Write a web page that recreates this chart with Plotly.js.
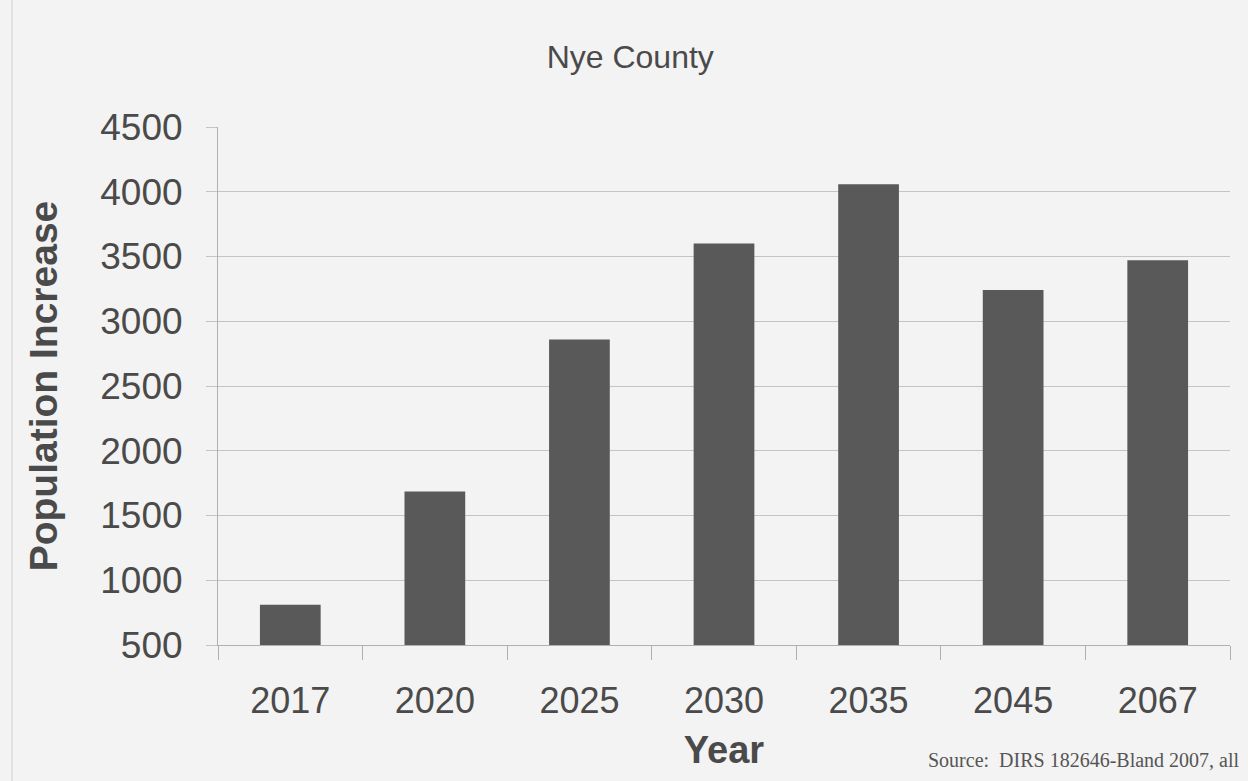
<!DOCTYPE html>
<html>
<head>
<meta charset="utf-8">
<script src="https://cdn.plot.ly/plotly-3.0.1.min.js"></script>
<style>html,body{margin:0;padding:0;background:#f3f3f3;}#chart{width:1248px;height:781px;}</style>
</head>
<body>
<div id="chart"></div>
<script>
var years = ["2017", "2020", "2025", "2030", "2035", "2045", "2067"];
var increase = [810, 1685, 2860, 3600, 4057, 3242, 3472];
var yTicks = [500, 1000, 1500, 2000, 2500, 3000, 3500, 4000, 4500];
var axisBase = 500;

var trace = {
  type: "bar",
  x: years,
  y: increase.map(function(v){ return v - axisBase; }),
  base: axisBase,
  marker: {color: "#595959", line: {width: 0}},
  hoverinfo: "x+y"
};

var layout = {
  width: 1248, height: 781,
  paper_bgcolor: "#f3f3f3",
  plot_bgcolor: "#f3f3f3",
  margin: {l: 218, r: 18, t: 127, b: 136},
  bargap: 0.58,
  showlegend: false,
  font: {family: "Liberation Sans, Arial, sans-serif", color: "#4a4a4a"},
  title: {text: "Nye County", x: 0.505, xanchor: "center", y: 0.927, yanchor: "middle",
          font: {size: 32, color: "#4a4a4a", family: "Liberation Sans, Arial, sans-serif"}},
  xaxis: {
    type: "category",
    tickson: "boundaries",
    ticks: "outside", ticklen: 14, tickcolor: "#b0b0b0", tickwidth: 1,
    showline: true, linecolor: "#b0b0b0", linewidth: 1,
    showgrid: false,
    tickfont: {size: 36, color: "#4a4a4a"},
    ticklabelstandoff: 24,
    title: {text: "<b>Year</b>", font: {size: 38, color: "#4a4a4a"}, standoff: 16}
  },
  yaxis: {
    range: [500, 4500],
    tickvals: yTicks,
    ticktext: yTicks.map(String),
    ticks: "outside", ticklen: 11, tickcolor: "#c4c4c4",
    showline: true, linecolor: "#b0b0b0", linewidth: 1,
    showgrid: true, gridcolor: "#c4c4c4", gridwidth: 1,
    zeroline: false,
    tickfont: {size: 37, color: "#4a4a4a"},
    ticklabelstandoff: 16,
    title: {text: "<b>Population Increase</b>", font: {size: 39, color: "#4a4a4a"}, standoff: 30}
  },
  annotations: [{
    xref: "paper", yref: "paper", x: 1.012, y: -0.222, xanchor: "right", yanchor: "middle",
    text: "Source:  DIRS 182646-Bland 2007, all", showarrow: false,
    font: {family: "Liberation Serif, Times New Roman, serif", size: 20, color: "#555"}
  }],
  shapes: [
    {type: "line", xref: "paper", yref: "paper", x0: -206/1012, x1: -206/1012, y0: -0.3, y1: 1.3,
     line: {color: "#d0d0d0", width: 1}}
  ]
};

Plotly.newPlot("chart", [trace], layout, {displayModeBar: false});
</script>
</body>
</html>
